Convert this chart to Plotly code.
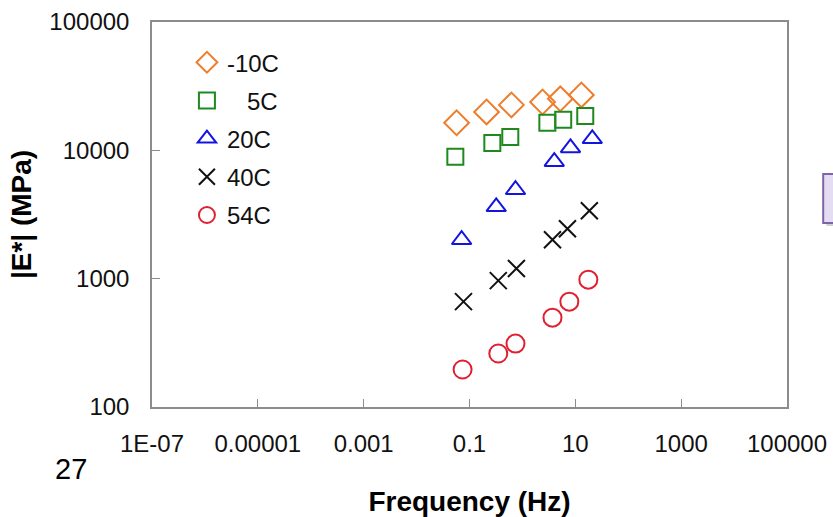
import plotly.graph_objects as go

# ---- data ----
series_names = ["-10C", "\u00a0\u00a0\u00a05C", "20C", "40C", "54C"]
freq_m10 = [0.057, 0.21, 0.62, 2.4, 5.2, 13.0]
emod_m10 = [16400, 19900, 22600, 23800, 25200, 27000]
freq_5 = [0.054, 0.27, 0.59, 2.96, 5.9, 15.4]
emod_5 = [8900, 11400, 12700, 16400, 17300, 18500]
freq_20 = [0.071, 0.32, 0.74, 4.0, 8.1, 20.9]
emod_20 = [2010, 3630, 4930, 8150, 10450, 12300]
freq_40 = [0.077, 0.35, 0.77, 3.7, 7.1, 18.4]
emod_40 = [662, 965, 1200, 2010, 2450, 3380]
freq_54 = [0.074, 0.35, 0.74, 3.7, 7.7, 17.6]
emod_54 = [196, 261, 312, 497, 662, 982]

x_tickvals = [1e-7, 1e-5, 1e-3, 1e-1, 1e1, 1e3, 1e5]
x_ticktext = ["1E-07", "0.00001", "0.001", "0.1", "10", "1000", "100000"]
y_tickvals = [100, 1000, 10000, 100000]
y_ticktext = ["100", "1000", "10000", "100000"]

FONT = "Liberation Sans, Arial, sans-serif"

styles = [
    dict(symbol="diamond-open", size=19, color="#EE7D2C"),
    dict(symbol="square-open", size=16, color="#1E8A1E"),
    dict(symbol="triangle-up-open", size=17, color="#1414E0"),
    dict(symbol="x-thin-open", size=17, color="#111111"),
    dict(symbol="circle-open", size=18, color="#E02030"),
]
xs = [freq_m10, freq_5, freq_20, freq_40, freq_54]
ys = [emod_m10, emod_5, emod_20, emod_40, emod_54]

fig = go.Figure()
for i, (name, x, y, st) in enumerate(zip(series_names, xs, ys, styles)):
    fig.add_trace(go.Scatter(
        x=x, y=y, mode="markers", name=name, legendgroup=f"g{i}",
        marker=dict(symbol=st["symbol"], size=st["size"], color=st["color"],
                    line=dict(width=2, color=st["color"])),
    ))

axis_common = dict(
    showline=True, linecolor="#8c8c8c", linewidth=1.5, mirror=True,
    ticks="inside", ticklen=8, tickcolor="#8c8c8c", tickwidth=1,
    showgrid=False, zeroline=False, automargin=False,
    tickfont=dict(family=FONT, size=24, color="#111111"),
)

fig.update_xaxes(
    type="log", range=[-7, 5], tickvals=x_tickvals, ticktext=x_ticktext,
    ticklabelstandoff=14,
    title=dict(text="<b>Frequency (Hz)</b>", font=dict(family=FONT, size=28, color="#000000"), standoff=42),
    **axis_common,
)
fig.update_yaxes(
    type="log", range=[2, 5], tickvals=y_tickvals, ticktext=y_ticktext,
    ticklabelstandoff=16,
    title=dict(text="<b>|E*| (MPa)</b>", font=dict(family=FONT, size=28, color="#000000"), standoff=10),
    **axis_common,
)

fig.update_layout(
    width=833, height=517,
    margin=dict(l=152, r=46, t=22, b=110),
    paper_bgcolor="white", plot_bgcolor="white",
    showlegend=True,
    legend=dict(x=0.055, y=0.953, xanchor="left", yanchor="top",
                font=dict(family=FONT, size=24, color="#111111"),
                bgcolor="rgba(0,0,0,0)", borderwidth=0, tracegroupgap=4,
                itemsizing="trace"),
    annotations=[dict(text="27", xref="paper", yref="paper", x=-0.127, y=-0.161,
                      xanchor="center", yanchor="middle", showarrow=False,
                      font=dict(family=FONT, size=29, color="#000000"))],
    shapes=[
        dict(type="rect", xref="paper", yref="paper", x0=1.062, x1=1.12, y0=0.470, y1=0.597,
             fillcolor="rgba(0,0,0,0.18)", line=dict(width=0), layer="below"),
        dict(type="rect", xref="paper", yref="paper", x0=1.057, x1=1.12, y0=0.478, y1=0.605,
             fillcolor="#E4DCF2", line=dict(color="#7F63A8", width=2)),
    ],
)

fig.write_html("out.html")
